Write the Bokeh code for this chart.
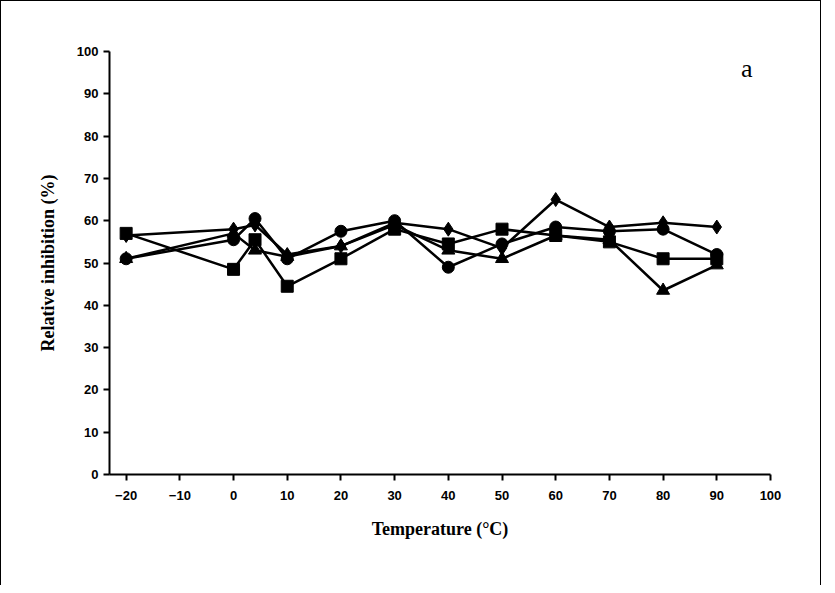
from bokeh.plotting import figure
from bokeh.models import FixedTicker, Label
from bokeh.embed import file_html
from bokeh.resources import INLINE

temps = [-20, 0, 4, 10, 20, 30, 40, 50, 60, 70, 80, 90]
diamond = [56.5, 58, 59, 52, 54, 59.5, 58, 53.5, 65, 58.5, 59.5, 58.5]
circle = [51, 55.5, 60.5, 51, 57.5, 60, 49, 54.5, 58.5, 57.5, 58, 52]
square = [57, 48.5, 55.5, 44.5, 51, 58, 54.5, 58, 56.5, 55, 51, 51]
triangle = [51, 57, 53, 51.5, 54, 59, 53, 51, 56.5, 55.5, 43.5, 49.5]
x_ticks = [-20, -10, 0, 10, 20, 30, 40, 50, 60, 70, 80, 90, 100]
y_ticks = [0, 10, 20, 30, 40, 50, 60, 70, 80, 90, 100]

p = figure(width=821, height=585, x_range=(-23.1, 100), y_range=(0, 100),
           output_backend="svg", toolbar_location=None,
           min_border_left=108, min_border_top=50, min_border_right=52, min_border_bottom=112)
p.styles = {"border-top": "1px solid black", "border-left": "1px solid black",
            "border-right": "1px solid black"}
p.outline_line_color = None
p.xgrid.visible = False
p.ygrid.visible = False

for ys, m, s in [(diamond, "diamond", 14), (circle, "circle", 12),
                 (square, "square", 12), (triangle, "triangle", 13)]:
    p.line(temps, ys, line_color="black", line_width=2.5)
    p.scatter(temps, ys, marker=m, size=s, color="black")

for ax in (p.xaxis, p.yaxis):
    ax.axis_line_width = 2
    ax.major_tick_line_width = 2
    ax.major_tick_out = 6
    ax.major_tick_in = 0
    ax.minor_tick_line_color = None
    ax.major_label_text_font = "Liberation Sans"
    ax.major_label_text_font_style = "bold"
    ax.major_label_text_font_size = "13px"
    ax.major_label_text_color = "black"
    ax.axis_label_text_font = "Liberation Serif"
    ax.axis_label_text_font_style = "bold"
    ax.axis_label_text_font_size = "18px"
    ax.axis_label_text_color = "black"
p.xaxis.ticker = FixedTicker(ticks=x_ticks)
p.yaxis.ticker = FixedTicker(ticks=y_ticks)
p.xaxis.axis_label = "Temperature (°C)"
p.yaxis.axis_label = "Relative inhibition (%)"
p.xaxis.major_label_standoff = 10
p.xaxis.axis_label_standoff = 16
p.yaxis.axis_label_standoff = 16

p.add_layout(Label(x=94.5, y=92.5, text="a", text_font="Liberation Serif",
                   text_font_size="26px", text_color="black"))

open("out.html", "w").write(file_html(p, INLINE))
